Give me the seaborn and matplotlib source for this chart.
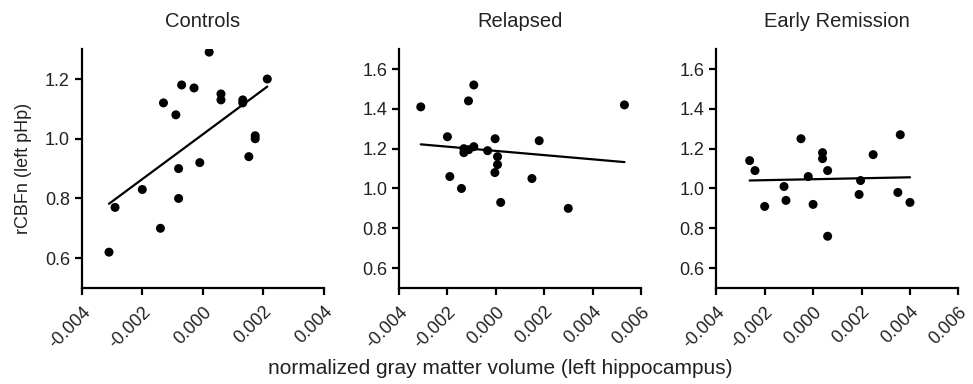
import numpy as np
import pandas as pd
import matplotlib
matplotlib.use("Agg")
import matplotlib.pyplot as plt
import seaborn as sns
from matplotlib.ticker import FormatStrFormatter

# values
controls_x = [-0.0031, -0.0029, -0.0020, -0.0014, -0.0013, -0.00089, -0.0008, -0.0008,
              -0.0007, -0.00029, -0.0001, 0.00021, 0.0006, 0.0006, 0.00132, 0.00132,
              0.00152, 0.00173, 0.00173, 0.00213]
controls_y = [0.62, 0.77, 0.83, 0.70, 1.12, 1.08, 0.80, 0.90,
              1.18, 1.17, 0.92, 1.29, 1.15, 1.13, 1.13, 1.12,
              0.94, 1.01, 1.00, 1.20]

relapsed_x = [-0.0031, -0.0020, -0.0019, -0.00142, -0.00132, -0.00132, -0.00112, -0.00091,
              -0.00113, -0.00091, -0.00034, -0.00003, 0.00007, 0.00007, -0.00004, 0.0002,
              0.00149, 0.00179, 0.00299, 0.00531]
relapsed_y = [1.41, 1.26, 1.06, 1.00, 1.20, 1.18, 1.195, 1.21,
              1.44, 1.52, 1.19, 1.25, 1.16, 1.12, 1.08, 0.93,
              1.05, 1.24, 0.90, 1.42]

remission_x = [-0.00262, -0.0024, -0.0020, -0.0012, -0.00112, -0.0005, -0.0002, 0.0,
               0.00039, 0.00039, 0.0006, 0.0006, 0.0019, 0.00196, 0.00248, 0.0035,
               0.0036, 0.0040]
remission_y = [1.14, 1.09, 0.91, 1.01, 0.94, 1.25, 1.06, 0.92,
               1.18, 1.15, 1.09, 0.76, 0.97, 1.04, 1.17, 0.98,
               1.27, 0.93]

panel_titles = ["Controls", "Relapsed", "Early Remission"]
x_ticks = [[-0.004, -0.002, 0.0, 0.002, 0.004],
           [-0.004, -0.002, 0.0, 0.002, 0.004, 0.006],
           [-0.004, -0.002, 0.0, 0.002, 0.004, 0.006]]
y_ticks = [[0.6, 0.8, 1.0, 1.2],
           [0.6, 0.8, 1.0, 1.2, 1.4, 1.6],
           [0.6, 0.8, 1.0, 1.2, 1.4, 1.6]]
x_limits = [(-0.004, 0.004), (-0.004, 0.006), (-0.004, 0.006)]
y_limits = [(0.5, 1.3), (0.5, 1.7), (0.5, 1.7)]

frames = [pd.DataFrame({"gm": controls_x, "rcbf": controls_y}),
          pd.DataFrame({"gm": relapsed_x, "rcbf": relapsed_y}),
          pd.DataFrame({"gm": remission_x, "rcbf": remission_y})]

sns.set_style("ticks")
plt.rcParams["font.family"] = ["Liberation Sans", "DejaVu Sans"]
plt.rcParams["font.size"] = 13

fig, axes = plt.subplots(1, 3, figsize=(9.73, 3.84), dpi=100)
plt.subplots_adjust(left=0.084, right=0.985, top=0.872, bottom=0.25, wspace=0.31)

txt = "#222222"
for i, ax in enumerate(axes):
    sns.regplot(data=frames[i], x="gm", y="rcbf", ax=ax, ci=None,
                scatter_kws={"s": 42, "color": "black", "edgecolor": "none", "alpha": 1},
                line_kws={"color": "black", "linewidth": 1.6})
    ax.set_xlim(x_limits[i])
    ax.set_ylim(y_limits[i])
    ax.set_xticks(x_ticks[i])
    ax.set_yticks(y_ticks[i])
    ax.xaxis.set_major_formatter(FormatStrFormatter("%.3f"))
    ax.yaxis.set_major_formatter(FormatStrFormatter("%.1f"))
    ax.set_title(panel_titles[i], fontsize=14.5, color=txt, pad=16)
    ax.set_xlabel("")
    ax.set_ylabel("")
    sns.despine(ax=ax)
    for s in ["left", "bottom"]:
        ax.spines[s].set_linewidth(1.6)
        ax.spines[s].set_color("black")
    ax.tick_params(axis="both", length=5, width=1.6, labelsize=13, labelcolor=txt, color="black")
    ax.tick_params(axis="x", pad=6)
    for lab in ax.get_xticklabels():
        lab.set_rotation(45)
        lab.set_ha("right")
        lab.set_rotation_mode("anchor")

axes[0].set_ylabel("rCBFn (left pHp)", fontsize=13, color=txt, labelpad=9)
fig.text(0.514, 0.04, "normalized gray matter volume (left hippocampus)",
         ha="center", va="center", fontsize=15, color=txt)

plt.savefig("out.png", dpi=100)
